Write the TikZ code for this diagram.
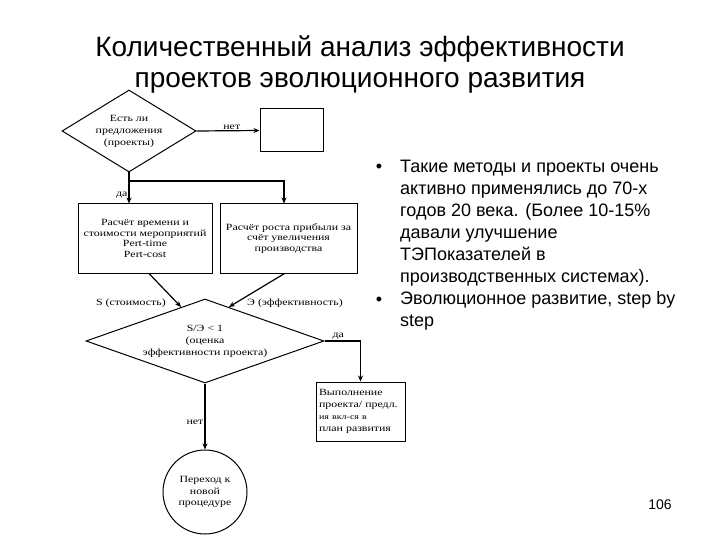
\documentclass[tikz,border=0pt]{standalone}
\usepackage{fontspec}
\usepackage{tikz}
\usetikzlibrary{shapes.geometric, arrows.meta, calc, positioning}
\setmainfont{Liberation Serif}
\newfontfamily\arial{Liberation Sans}
\newfontfamily\chartfont{Liberation Serif}[FakeStretch=1.25]

\tikzset{
  decision/.style={diamond, draw, line width=1pt, inner sep=0pt, align=center, font=\chartfont\fontsize{9.5}{12}\selectfont},
  block/.style={rectangle, draw, line width=1pt, inner sep=2pt, align=center, font=\chartfont\fontsize{9.5}{10.5}\selectfont},
  flow/.style={-{Stealth[length=6pt, width=5pt]}, line width=1.2pt},
  lbl/.style={font=\chartfont\fontsize{9.5}{11}\selectfont, inner sep=1pt},
  bullettext/.style={font=\arial\fontsize{18}{22}\selectfont},
}

\begin{document}
\begin{tikzpicture}[x=1pt, y=-1pt]
        \useasboundingbox (0,0) rectangle (720,540);
        % title
        \node[font=\arial\fontsize{28}{31}\selectfont, align=center, anchor=north] (title) at (360,32)
            {Количественный анализ эффективности\\проектов эволюционного развития};

        % flowchart
        \node[decision, aspect=1.6, minimum width=134, minimum height=82] (offers) at (129,131)
            {Есть ли\\предложения\\(проекты)};
        \node[block, minimum width=63, minimum height=43] (empty) at (291.5,130.5) {};
        \node[block, minimum width=134, minimum height=69] (timecost) at (145,238.5)
            {Расчёт времени и\\стоимости мероприятий\\Pert-time\\Pert-cost};
        \node[block, minimum width=137, minimum height=69] (profit) at (288.5,238.5)
            {Расчёт роста прибыли за\\счёт увеличения\\производства};
        \node[decision, aspect=2.8, minimum width=238, minimum height=84] (ratio) at (205,341)
            {S/Э < 1\\(оценка\\эффективности проекта)};
        \node[block, minimum width=89, minimum height=59, align=left, text width=83, inner xsep=3pt,
            font=\chartfont\fontsize{9.5}{12}\selectfont] (plan) at (360.5,411.5)
            {Выполнение\\проекта/ предл.\\{\fontsize{8}{12}\selectfont ия вкл-ся в}\\план развития};
        \node[circle, draw, line width=1pt, minimum size=84, inner sep=0pt, align=center,
            font=\chartfont\fontsize{9.5}{11.5}\selectfont] (newproc) at (205,492)
            {Переход к\\новой\\процедуре};

        \coordinate (split) at (129,181);
        \coordinate (splitB) at (284,181);

        \draw[flow] (offers.east) -- node[lbl, above, pos=0.56]{нет} (empty.west);
        \draw[flow] (offers.south) -- node[lbl, left, pos=0.72]{да} (offers.south |- timecost.north);
        \draw[flow] (split) -- (splitB) -- (profit.north -| splitB);
        \draw[flow] ($(timecost.south)+(4,0)$) -- ($(ratio.north)!0.2!(ratio.west)$);
        \draw[flow] ($(profit.south)+(-4,0)$) -- ($(ratio.north)!0.2!(ratio.east)$);
        \node[lbl, anchor=east] (costlbl) at (167,303) {S (стоимость)};
        \node[lbl, anchor=west] (efflbl) at (246,303) {Э (эффективность)};
        \draw[flow] (ratio.east) -| node[lbl, above, pos=0.19]{да} (plan.north);
        \draw[flow] (ratio.south) -- node[lbl, left, pos=0.59]{нет} (newproc.north);

        % bullets
        \node[bullettext, anchor=base] (dot1) at (379,173) {•};
        \node[bullettext, anchor=base] (dot2) at (379,305) {•};
        \node[bullettext, align=left, anchor=north west, inner sep=0pt] (text1) at (400,159.5)
            {Такие методы и проекты очень\\активно применялись до 70-х\\годов 20 века. (Более 10-15\%\\давали улучшение\\ТЭПоказателей в\\производственных системах).\\Эволюционное развитие, step by\\step};

        \node[font=\arial\fontsize{14}{16}\selectfont] (page) at (660,505) {106};
\end{tikzpicture}
\end{document}
